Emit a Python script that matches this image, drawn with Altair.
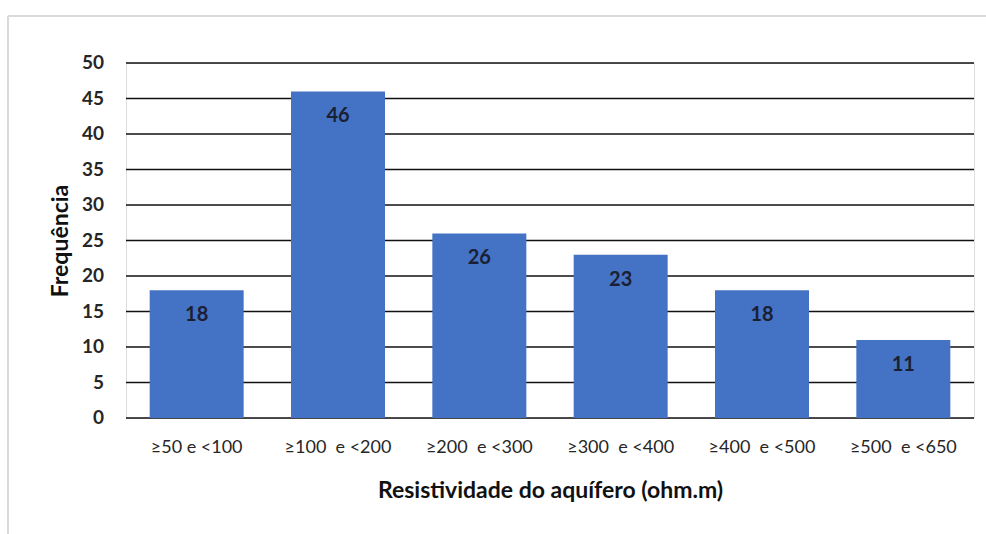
import altair as alt
import pandas as pd

# Aquifer resistivity classes and their frequencies
classes = ["≥50 e <100", "≥100\u00a0 e <200", "≥200\u00a0 e <300", "≥300\u00a0 e <400", "≥400\u00a0 e <500", "≥500\u00a0 e <650"]
counts = [18, 46, 26, 23, 18, 11]
y_ticks = [0, 5, 10, 15, 20, 25, 30, 35, 40, 45, 50]

df = pd.DataFrame({"classe": classes, "freq": counts})
ticks_df = pd.DataFrame({"freq": y_ticks})

FONT = "Lato"
W, H = 848, 355

x = alt.X(
    "classe:N",
    sort=classes,
    scale=alt.Scale(paddingInner=0.335, paddingOuter=0.1675),
    axis=alt.Axis(
        title="Resistividade do aquífero (ohm.m)",
        labelAngle=0,
        labelFontSize=18,
        labelColor="#262626",
        labelPadding=20,
        ticks=False,
        domain=False,
        titleFontSize=23,
        titleFontWeight="bold",
        titleColor="#111111",
        titlePadding=23,
        labelFont=FONT,
        titleFont=FONT,
    ),
)
y_scale = alt.Scale(domain=[0, 50], nice=False, zero=True)
y = alt.Y(
    "freq:Q",
    scale=y_scale,
    axis=alt.Axis(
        title="Frequência",
        labels=False,
        ticks=False,
        domain=False,
        grid=False,
        titleFontSize=23,
        titleFontWeight="bold",
        titleColor="#111111",
        titlePadding=54,
        titleFont=FONT,
    ),
)

# horizontal gridlines every 5 units
grid = alt.Chart(ticks_df).mark_rule(color="#111111", strokeWidth=1.3).encode(
    y=alt.Y("freq:Q", scale=y_scale),
    x=alt.value(0),
    x2=alt.value(W),
)

# y tick labels
tick_labels = alt.Chart(ticks_df).mark_text(
    font=FONT, fontSize=19, fontWeight="bold", color="#262626",
    align="right", baseline="middle",
).encode(
    y=alt.Y("freq:Q", scale=y_scale),
    x=alt.value(-22),
    text="freq:Q",
)

bars = alt.Chart(df).mark_bar(color="#4472C4").encode(x=x, y=y)

# value labels just inside the top of each bar
labels = alt.Chart(df).mark_text(
    font=FONT, fontSize=20, fontWeight="bold", color="#1b1f33", dy=25
).encode(
    x=alt.X("classe:N", sort=classes),
    y=alt.Y("freq:Q", scale=y_scale),
    text="freq:Q",
)

# light outer frame around the chart
frame = alt.Chart(df).mark_rect(
    fillOpacity=0, stroke="#d9d9d9", strokeWidth=1
).encode(
    x=alt.value(-118), x2=alt.value(W + 40),
    y=alt.value(-47), y2=alt.value(H + 140),
)

chart = alt.layer(grid, tick_labels, bars, labels, frame).properties(
    width=W,
    height=H,
    autosize=alt.AutoSizeParams(type="none"),
    padding={"left": 126, "top": 63, "right": 12, "bottom": 116},
).configure_view(strokeWidth=0).configure(background="white")

chart.save("out.html", embed_options={"renderer": "svg", "actions": False})
